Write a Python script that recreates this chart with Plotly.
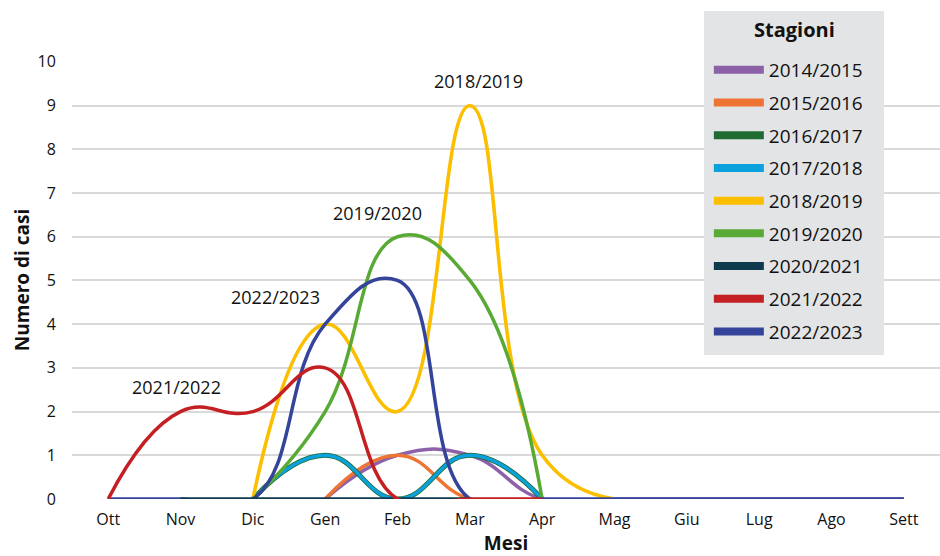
import plotly.graph_objects as go

months = ["Ott", "Nov", "Dic", "Gen", "Feb", "Mar", "Apr", "Mag", "Giu", "Lug", "Ago", "Sett"]

s_2014_2015 = [None, None, None, 0, 1, 1, 0, 0, 0, 0, 0, 0]
s_2015_2016 = [None, None, None, 0, 1, 0, 0, None, None, None, None, None]
s_2016_2017 = [None, None, 0, 1, 0, 1, 0, None, None, None, None, None]
s_2017_2018 = [None, None, 0, 1, 0, 1, 0, None, None, None, None, None]
s_2018_2019 = [None, None, 0, 4, 2, 9, 1, 0, None, None, None, None]
s_2019_2020 = [None, None, 0, 2, 6, 5, 0, None, None, None, None, None]
s_2020_2021 = [None, 0, 0, 0, 0, 0, None, None, None, None, None, None]
s_2021_2022 = [0, 2, 2, 3, 0, 0, 0, None, None, None, None, None]
s_2022_2023 = [0, 0, 0, 4, 5, 0, 0, 0, 0, 0, 0, 0]

seasons = ["2014/2015", "2015/2016", "2016/2017", "2017/2018", "2018/2019",
           "2019/2020", "2020/2021", "2021/2022", "2022/2023"]
colors = ["#8c61a8", "#ee7433", "#1f6b31", "#0aa1dd", "#fbbf00",
          "#59aa34", "#0f3a4e", "#c41f22", "#34449a"]
series = [s_2014_2015, s_2015_2016, s_2016_2017, s_2017_2018, s_2018_2019,
          s_2019_2020, s_2020_2021, s_2021_2022, s_2022_2023]
widths = [3.5, 3.5, 5, 3.5, 3.6, 3.5, 3.5, 3.5, 3.5]

# drawing order (bottom to top)
draw_order = [0, 1, 2, 3, 4, 5, 8, 6, 7]

labels_text = ["2018/2019", "2019/2020", "2022/2023", "2021/2022"]
labels_x = [5.12, 3.72, 2.32, 0.95]
labels_y = [9.56, 6.54, 4.62, 2.56]

FONT = "Open Sans"

fig = go.Figure()
for i in draw_order:
    fig.add_trace(go.Scatter(
        x=months, y=series[i], mode="lines", name=seasons[i],
        line=dict(color=colors[i], width=widths[i], shape="spline", smoothing=1.3),
        connectgaps=False, showlegend=False, hoverinfo="skip"))

# legend entries
for i in range(len(seasons)):
    fig.add_trace(go.Scatter(
        x=[None], y=[None], mode="lines", name=seasons[i],
        line=dict(color=colors[i], width=8),
        legendgroup=seasons[i], showlegend=True))

for t, xx, yy in zip(labels_text, labels_x, labels_y):
    fig.add_annotation(x=xx, y=yy, text=t, showarrow=False,
                       font=dict(family=FONT, size=18, color="#111111"))

# legend panel and title
fig.add_shape(type="rect", xref="paper", yref="paper",
              x0=0.7281, x1=0.9355, y0=0.3288, y1=1.1142,
              fillcolor="#e3e4e6", line=dict(width=0), layer="above")
fig.add_annotation(xref="paper", yref="paper", x=0.8318, y=1.071,
                   xanchor="center", yanchor="middle",
                   text="<b>Stagioni</b>", showarrow=False,
                   font=dict(family=FONT, size=20, color="#111111"))

fig.update_layout(
    width=940, height=556,
    margin=dict(l=72, r=0, t=61, b=57),
    paper_bgcolor="white", plot_bgcolor="white",
    font=dict(family=FONT, size=16, color="#111111"),
    showlegend=True,
    legend=dict(
        x=0.7337, y=1.0228, xanchor="left", yanchor="top",
        bgcolor="rgba(0,0,0,0)", borderwidth=0, maxheight=600,
        font=dict(family=FONT, size=19, color="#111111"),
        tracegroupgap=5, itemwidth=50,
    ),
    xaxis=dict(
        type="category", categoryorder="array", categoryarray=months,
        range=[-0.5, 11.5], showgrid=False, zeroline=False, showline=False,
        ticks="outside", ticklen=6, tickcolor="rgba(0,0,0,0)",
        tickfont=dict(family=FONT, size=16, color="#111111"),
        title=dict(text="<b>Mesi</b>", standoff=8,
                   font=dict(family=FONT, size=19, color="#111111")),
    ),
    yaxis=dict(
        range=[0, 10.02], dtick=1, tick0=0, showgrid=True, gridcolor="#d9d9d9",
        gridwidth=1.5, zeroline=False, showline=False,
        ticks="outside", ticklen=12, tickcolor="rgba(0,0,0,0)",
        tickfont=dict(family=FONT, size=16, color="#111111"),
        title=dict(text="<b>Numero di casi</b>", standoff=2,
                   font=dict(family=FONT, size=19, color="#111111")),
    ),
)

fig.write_html("out.html")
